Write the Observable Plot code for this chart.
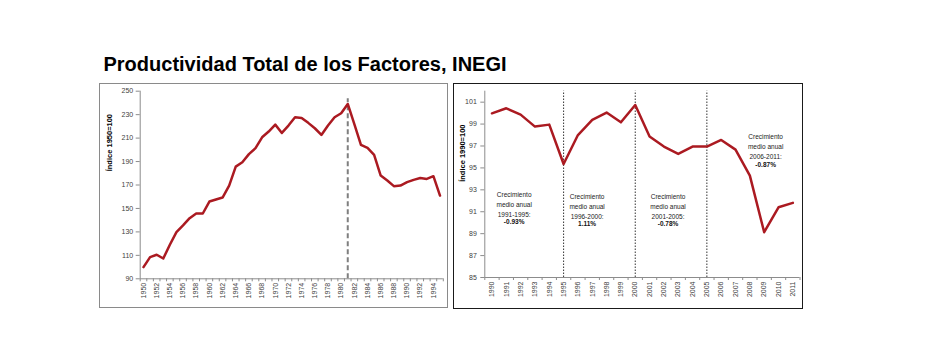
<!DOCTYPE html>
<html><head><meta charset="utf-8">
<script src="https://cdn.jsdelivr.net/npm/d3@7"></script>
<script src="https://cdn.jsdelivr.net/npm/@observablehq/plot@0.6"></script>
<style>
body{margin:0;background:#fff;width:929px;height:358px;position:relative;overflow:hidden;font-family:"Liberation Sans",Arial,sans-serif}
#title{position:absolute;left:103.5px;top:51.8px;font-size:20px;font-weight:bold;color:#000;white-space:nowrap;line-height:24px}
.panel{position:absolute;top:83px;height:224px}
.panel svg{display:block}
.border{position:absolute;box-sizing:border-box;pointer-events:none}
</style></head><body>
<div id="title">Productividad Total de los Factores, INEGI</div>
<div id="left" class="panel" style="left:99px;width:348px"></div>
<div id="right" class="panel" style="left:453px;width:349px"></div>
<div class="border" style="left:99px;top:83px;width:349px;height:225px;border:1px solid #8a8a8a"></div>
<div class="border" style="left:453px;top:82.5px;width:350px;height:226px;border:1.5px solid #1a1a1a"></div>
<script>
// ---- Data: left panel (1950=100)
const leftYears = [1950,1951,1952,1953,1954,1955,1956,1957,1958,1959,1960,1961,1962,1963,1964,1965,1966,1967,1968,1969,1970,1971,1972,1973,1974,1975,1976,1977,1978,1979,1980,1981,1982,1983,1984,1985,1986,1987,1988,1989,1990,1991,1992,1993,1994,1995];
const leftValues = [100,108.5,110.5,107.3,119,129.8,135.5,141.7,145.7,145.7,155.9,157.6,159.3,169.5,185.7,189.4,196.3,201.4,210.7,215.6,221.5,214.4,220.7,227.8,227.2,223,218.4,212.7,220.7,227.8,231.2,239.1,222,204.2,201.6,195.7,178,173.8,169,169.5,172.4,174.4,176,175.2,177.5,161];
const leftYTicks = [90,110,130,150,170,190,210,230,250];
const leftXTicks = [1950,1952,1954,1956,1958,1960,1962,1964,1966,1968,1970,1972,1974,1976,1978,1980,1982,1984,1986,1988,1990,1992,1994];
const leftLabel = "Índice 1950=100";
const breakYear = 1981;

// ---- Data: right panel (1990=100)
const rightYears = [1990,1991,1992,1993,1994,1995,1996,1997,1998,1999,2000,2001,2002,2003,2004,2005,2006,2007,2008,2009,2010,2011];
const rightValues = [99.98,100.44,99.86,98.77,98.95,95.36,98.0,99.38,100.05,99.16,100.74,97.86,96.95,96.28,96.95,96.95,97.55,96.67,94.3,89.13,91.41,91.81];
const rightYTicks = [85,87,89,91,93,95,97,99,101];
const rightXTicks = rightYears;
const rightLabel = "Índice 1990=100";
const periodBreaks = [1995, 2000, 2005];
const notes = [
  {x: 1991.55, y: 93.0, lines: ["Crecimiento", "medio anual", "1991-1995:"], rate: "-0.93%"},
  {x: 1996.64, y: 92.85, lines: ["Crecimiento", "medio anual", "1996-2000:"], rate: "1.11%"},
  {x: 2002.29, y: 92.85, lines: ["Crecimiento", "medio anual", "2001-2005:"], rate: "-0.78%"},
  {x: 2009.1, y: 98.25, lines: ["Crecimiento", "medio anual", "2006-2011:"], rate: "-0.87%"}
];

const lineColor = "#ab1a21";
const axisColor = "#8c8c8c";
const textColor = "#404040";
const font = "Liberation Sans, Arial, sans-serif";

const leftData = leftYears.map((y, i) => ({year: y, value: leftValues[i]}));
const rightData = rightYears.map((y, i) => ({year: y, value: rightValues[i]}));

const leftBounds = [leftYears[0] - 0.5, leftYears[leftYears.length - 1] + 0.5];
const rightBounds = [rightYears[0] - 0.5, rightYears[rightYears.length - 1] + 0.5];
const leftTickMarks = leftYears.map(y => y - 0.5).concat([leftBounds[1]]);
const rightTickMarks = rightYears.map(y => y - 0.5).concat([rightBounds[1]]);

const leftPlot = Plot.plot({
  width: 348, height: 224,
  marginLeft: 40.7, marginRight: 4.2, marginTop: 7.7, marginBottom: 28.7,
  x: {domain: leftBounds},
  y: {domain: [leftYTicks[0], leftYTicks[leftYTicks.length - 1]]},
  style: {fontFamily: font, background: "white", color: textColor, overflow: "visible"},
  marks: [
    Plot.ruleX([leftBounds[0]], {stroke: axisColor, strokeWidth: 1}),
    Plot.ruleY([leftYTicks[0]], {stroke: axisColor, strokeWidth: 1}),
    Plot.axisY({ticks: leftYTicks, tickSize: 4, tickPadding: 3, fontSize: 7, label: null, stroke: axisColor, fill: textColor}),
    Plot.axisX({ticks: leftTickMarks, tickSize: 3, tickFormat: () => "", label: null, stroke: axisColor}),
    Plot.axisX({ticks: leftXTicks, tickSize: 0, tickPadding: 4, tickRotate: -90, fontSize: 7, tickFormat: d => String(d), label: null, fill: textColor}),
    Plot.ruleX([breakYear], {y1: 90, y2: 243.5, stroke: "#7f7f7f", strokeWidth: 2, strokeDasharray: "5,3"}),
    Plot.line(leftData, {x: "year", y: "value", stroke: lineColor, strokeWidth: 2.5}),
    Plot.text([leftLabel], {frameAnchor: "left", dx: -30.7, dy: -13.7, rotate: -90, fontWeight: "bold", fontSize: 7.5, fill: "#000"})
  ]
});
document.getElementById("left").appendChild(leftPlot);

const rightPlot = Plot.plot({
  width: 349, height: 224,
  marginLeft: 31.3, marginRight: 2.5, marginTop: 7.7, marginBottom: 30,
  x: {domain: rightBounds},
  y: {domain: [85, 102]},
  style: {fontFamily: font, background: "white", color: textColor, overflow: "visible"},
  marks: [
    Plot.ruleX([rightBounds[0]], {stroke: axisColor, strokeWidth: 1}),
    Plot.ruleY([85], {stroke: axisColor, strokeWidth: 1}),
    Plot.axisY({ticks: rightYTicks, tickSize: 4, tickPadding: 4, fontSize: 7, label: null, stroke: axisColor, fill: textColor}),
    Plot.axisX({ticks: rightTickMarks, tickSize: 3, tickFormat: () => "", label: null, stroke: axisColor}),
    Plot.axisX({ticks: rightXTicks, tickSize: 0, tickPadding: 4, tickRotate: -90, fontSize: 7, tickFormat: d => String(d), label: null, fill: textColor}),
    Plot.ruleX(periodBreaks, {y1: 85, y2: 102, stroke: "#333", strokeWidth: 1, strokeDasharray: "1.5,1.5"}),
    Plot.line(rightData, {x: "year", y: "value", stroke: lineColor, strokeWidth: 2.5}),
    Plot.text(notes, {x: "x", y: "y", text: d => d.lines.join("\n"), lineAnchor: "top", lineHeight: 1.54, fontSize: 6.5, fill: "#222"}),
    Plot.text(notes, {x: "x", y: "y", text: "rate", lineAnchor: "top", dy: 30, fontSize: 6.5, fontWeight: "bold", fill: "#111"}),
    Plot.text([rightLabel], {frameAnchor: "left", dx: -22.6, dy: -2.5, rotate: -90, fontWeight: "bold", fontSize: 7.5, fill: "#000"})
  ]
});
document.getElementById("right").appendChild(rightPlot);
</script>
</body></html>
